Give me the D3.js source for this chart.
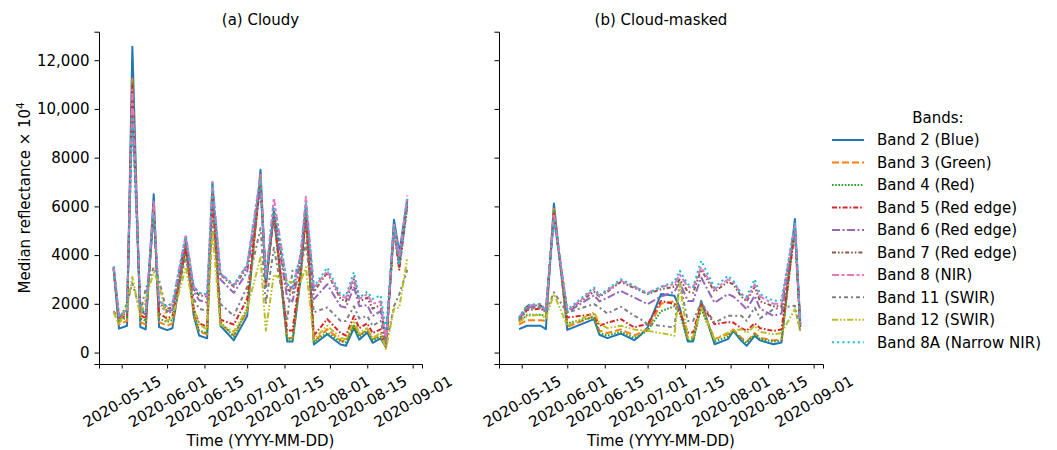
<!DOCTYPE html>
<html><head><meta charset="utf-8">
<script src="https://cdn.jsdelivr.net/npm/d3@7"></script>
<style>
body{margin:0;background:#fff;}
svg text{font-family:"DejaVu Sans",sans-serif;fill:#000;}
</style></head><body>
<svg id="chart" width="1057" height="450"></svg>
<script>
// ---------- data ----------
const bandNames = ["Band 2 (Blue)","Band 3 (Green)","Band 4 (Red)","Band 5 (Red edge)","Band 6 (Red edge)","Band 7 (Red edge)","Band 8 (NIR)","Band 11 (SWIR)","Band 12 (SWIR)","Band 8A (Narrow NIR)"];
const bandColors = ["#1f77b4","#ff7f0e","#2ca02c","#d62728","#9467bd","#8c564b","#e377c2","#7f7f7f","#bcbd22","#17becf"];
const bandDashes = ["none","7,3","1.6,1.6","5,2,1.6,2","8,2.5,2,2.5","4,2,1.6,2,1.6,2","7,2.5,3,2.5","4,3,2,3","6,2,1.6,2,1.6,2","2,3.2"];

const panelTitles = ["(a) Cloudy","(b) Cloud-masked"];
const xTickLabels = ["2020-05-15","2020-06-01","2020-06-15","2020-07-01","2020-07-15","2020-08-01","2020-08-15","2020-09-01"];
const yTicks = [0,2000,4000,6000,8000,10000,12000];
const yTickLabels = ["0","2000","4000","6000","8000","10,000","12,000"];

const cloudyDates = ["2020-05-12","2020-05-14","2020-05-17","2020-05-19","2020-05-22","2020-05-24","2020-05-27","2020-05-29","2020-06-01","2020-06-03","2020-06-08","2020-06-11","2020-06-13","2020-06-16","2020-06-18","2020-06-21","2020-06-26","2020-07-01","2020-07-06","2020-07-08","2020-07-11","2020-07-16","2020-07-18","2020-07-21","2020-07-23","2020-07-26","2020-07-31","2020-08-05","2020-08-07","2020-08-10","2020-08-12","2020-08-15","2020-08-17","2020-08-20","2020-08-22","2020-08-25","2020-08-27","2020-08-30"];
const cloudyB2  = [3400,980,1100,12550,1050,950,6500,1050,920,1000,4500,1500,700,580,7000,1100,500,1500,7500,2700,5800,450,450,3000,6000,330,750,330,280,1000,530,820,400,580,230,5450,4100,6300];
const cloudyB3  = [3420,1150,1300,11250,1250,1150,6000,1250,1100,1200,4300,1600,850,750,6700,1200,700,1700,7200,2800,5700,600,600,3100,5700,450,960,500,450,1150,700,950,550,700,230,5200,3700,6100];
const cloudyB4  = [3430,1280,1450,11050,1400,1300,5900,1400,1250,1350,4200,1700,900,800,6600,1250,650,1800,7100,2850,5600,550,550,3200,5600,420,820,450,420,1100,650,900,500,650,220,5100,3500,6000];
const cloudyB5  = [3450,1350,1550,10950,1550,1400,5850,1600,1400,1500,4300,1800,1200,1050,6500,1350,1150,2200,7000,2900,5600,900,900,3400,5500,700,1370,800,700,1500,1000,1200,800,950,250,5000,3400,6100];
const cloudyB6  = [3480,1420,1650,10000,1700,1550,5700,1900,1700,1750,4600,2500,2150,2050,6600,3000,2450,3300,6800,3000,5600,2250,2100,3700,5800,2190,2800,1900,1850,2700,1900,1950,1500,1700,400,5100,3600,6200];
const cloudyB7  = [3500,1450,1700,10500,1750,1600,5800,2000,1800,1850,4700,2600,2350,2300,6800,3200,2700,3500,7000,3050,5800,2600,2450,3900,6000,2500,3280,2200,2100,3000,2100,2250,1800,1950,450,5200,3800,6300];
const cloudyB8  = [3550,1500,1750,10800,1850,1650,6200,2100,1900,2000,4850,2700,2450,2350,7000,3250,2750,3600,7300,3100,6350,2750,2650,4000,6400,2650,3350,2300,2250,3100,2200,2400,2000,2100,500,5300,3900,6450];
const cloudyB11 = [1700,1350,2000,2850,1700,2600,3500,3000,1600,1700,3900,2200,1800,1700,5400,2000,1500,2700,5100,2000,4300,1300,3400,3400,4500,1650,1850,1300,1300,1900,1400,1500,1100,1300,300,1900,2400,3400];
const cloudyB12 = [1650,1150,1900,3100,1500,2200,3300,2800,1300,1450,3500,1800,1150,950,5000,1150,850,1800,3900,900,3200,2900,2900,2900,3500,550,1100,600,550,1300,800,1000,600,800,150,1800,1850,3900];
const cloudyB8A = [3520,1500,1750,9700,1850,1650,5700,2100,1900,2050,4750,2700,2450,2400,6900,3250,2800,3600,7100,3000,6000,2800,2700,4000,6100,2700,3490,2380,2330,3300,2250,2500,2200,2350,900,5200,3600,6300];

const maskedDates = ["2020-05-14","2020-05-17","2020-05-22","2020-05-24","2020-05-27","2020-06-01","2020-06-11","2020-06-13","2020-06-16","2020-06-21","2020-06-26","2020-06-28","2020-07-01","2020-07-06","2020-07-11","2020-07-13","2020-07-16","2020-07-18","2020-07-21","2020-07-26","2020-07-31","2020-08-02","2020-08-05","2020-08-07","2020-08-10","2020-08-12","2020-08-17","2020-08-20","2020-08-25","2020-08-27"];
const maskedB2  = [960,1100,1100,960,6120,930,1370,730,590,780,510,685,1030,2400,2330,1850,450,450,2120,340,550,890,480,275,685,500,340,410,5480,1140];
const maskedB3  = [1150,1330,1330,1300,5900,1050,1500,900,800,950,700,800,950,2000,2100,1700,600,600,1900,550,750,950,600,450,800,600,500,550,5200,1100];
const maskedB4  = [1250,1550,1550,1500,5800,1200,1450,800,700,850,600,700,900,1700,1900,1600,500,500,1800,450,650,900,550,400,750,550,450,500,5100,1050];
const maskedB5  = [1300,1750,1800,1700,5700,1440,1575,1100,1230,1370,1030,1100,1160,2120,1990,1700,820,820,2000,1160,1250,1230,1000,900,1200,1000,890,950,5000,1000];
const maskedB6  = [1350,1850,1900,1750,5500,1650,2350,2100,2250,2530,2260,2150,1990,2300,2500,2880,2120,2120,3080,2050,2400,2300,2000,1780,2330,1800,1510,1600,5100,1100];
const maskedB7  = [1400,1900,1950,1700,5600,1700,2500,2300,2500,2900,2650,2550,2400,2600,2700,3000,2500,2450,3400,2500,2900,2800,2300,2100,2700,2100,1900,1900,5150,1200];
const maskedB8  = [1450,1920,1990,1710,5700,1710,2600,2330,2550,2950,2700,2600,2450,2700,2800,3200,2700,2650,3500,2600,3000,2900,2400,2200,2800,2300,2000,2000,5300,1200];
const maskedB11 = [1350,1800,1850,1650,2470,1640,1990,1850,1600,1880,1510,1400,1160,1100,1030,2880,1300,1300,2050,1230,1510,1510,1510,1300,1850,1400,1780,1850,1920,890];
const maskedB12 = [1250,1500,1550,1400,2400,1100,1650,1200,1000,1100,950,920,890,800,685,2810,620,650,1850,550,820,900,960,800,1100,850,750,800,1780,890];
const maskedB8A = [1440,1950,2000,1750,5500,1750,2670,2350,2600,3010,2740,2600,2400,2700,2900,3360,2810,2700,3770,2670,3150,2950,2400,2300,3010,2400,2120,2150,5270,1200];

// ---------- build ----------
const parse = d3.timeParse("%Y-%m-%d");
const cloudySeries = [cloudyB2,cloudyB3,cloudyB4,cloudyB5,cloudyB6,cloudyB7,cloudyB8,cloudyB11,cloudyB12,cloudyB8A];
const maskedSeries = [maskedB2,maskedB3,maskedB4,maskedB5,maskedB6,maskedB7,maskedB8,maskedB11,maskedB12,maskedB8A];
const panels = [
  {dates: cloudyDates.map(parse), series: cloudySeries, x0: 99, x1: 422},
  {dates: maskedDates.map(parse), series: maskedSeries, x0: 499, x1: 823}
];
const yTop = 31.7, yBot = 364;
const LW = 2;

const allDates = panels.flatMap(p => p.dates);
const [dMin, dMax] = d3.extent(allDates);
const dPad = (dMax - dMin) * 0.05;
const allVals = panels.flatMap(p => p.series.flat());
const [vMin, vMax] = d3.extent(allVals);
const vPad = (vMax - vMin) * 0.05;

const svg = d3.select("#chart");
const FS = 15;

panels.forEach((p, pi) => {
  const x = d3.scaleTime().domain([new Date(+dMin - dPad), new Date(+dMax + dPad)]).range([p.x0, p.x1]);
  const y = d3.scaleLinear().domain([vMin - vPad, vMax + vPad]).range([yBot, yTop]);
  const g = svg.append("g");

  // lines
  const line = d3.line().x((d) => x(d[0])).y((d) => y(d[1]));
  p.series.forEach((vals, si) => {
    g.append("path")
      .datum(p.dates.map((d, i) => [d, vals[i]]))
      .attr("d", line)
      .attr("fill", "none")
      .attr("stroke", bandColors[si])
      .attr("stroke-width", LW)
      .attr("stroke-dasharray", bandDashes[si])
      .attr("stroke-linejoin", "round");
  });

  // x axis
  const xAxis = d3.axisBottom(x)
    .tickValues(xTickLabels.map(parse))
    .tickFormat((d, i) => xTickLabels[i])
    .tickSizeOuter(0).tickSize(4.5);
  const gx = g.append("g").attr("transform", `translate(0,${yBot})`).call(xAxis);
  gx.select(".domain").attr("stroke", "#000").attr("stroke-width", 1);
  gx.selectAll(".tick line").attr("stroke", "#000").attr("stroke-width", 1);
  gx.selectAll(".tick text")
    .attr("font-size", FS)
    .attr("text-anchor", "middle")
    .attr("dy", "0.35em")
    .attr("y", 0)
    .attr("transform", "translate(0,37.5) rotate(-30)");

  // y axis
  const yAxis = d3.axisLeft(y)
    .tickValues(yTicks)
    .tickFormat((d, i) => pi === 0 ? yTickLabels[i] : "")
    .tickSizeOuter(0).tickSize(4.5).tickPadding(5);
  const gy = g.append("g").attr("transform", `translate(${p.x0},0)`).call(yAxis);
  gy.select(".domain").attr("stroke", "#000").attr("stroke-width", 1);
  gy.selectAll(".tick line").attr("stroke", "#000").attr("stroke-width", 1);
  gy.selectAll(".tick text").attr("font-size", FS);

  // title
  g.append("text").attr("x", (p.x0 + p.x1) / 2).attr("y", 25)
    .attr("text-anchor", "middle").attr("font-size", FS).text(panelTitles[pi]);
  // x label
  g.append("text").attr("x", (p.x0 + p.x1) / 2).attr("y", 446)
    .attr("text-anchor", "middle").attr("font-size", FS).text("Time (YYYY-MM-DD)");
});

// y label
const yl = svg.append("text")
  .attr("transform", `translate(30,${(yTop + yBot) / 2}) rotate(-90)`)
  .attr("text-anchor", "middle").attr("font-size", FS);
yl.append("tspan").text("Median reflectance × 10");
yl.append("tspan").attr("font-size", FS * 0.7).attr("dy", "-0.6em").text("4");

// legend
const lg = svg.append("g");
lg.append("text").attr("x", 938).attr("y", 118).attr("dy", "0.35em")
  .attr("text-anchor", "middle").attr("font-size", FS).text("Bands:");
bandNames.forEach((name, i) => {
  const yy = 140 + i * 22.48;
  lg.append("line").attr("x1", 832).attr("x2", 864).attr("y1", yy).attr("y2", yy)
    .attr("stroke", bandColors[i]).attr("stroke-width", LW)
    .attr("stroke-dasharray", bandDashes[i]);
  lg.append("text").attr("x", 877).attr("y", yy).attr("dy", "0.35em")
    .attr("font-size", FS).text(name);
});
</script>
</body></html>
